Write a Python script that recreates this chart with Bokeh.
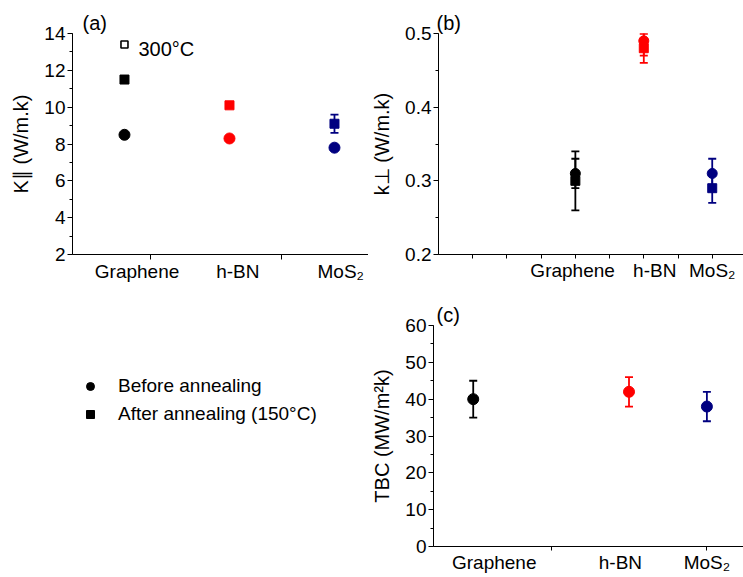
from bokeh.plotting import figure
from bokeh.layouts import row, column
from bokeh.models import (ColumnDataSource, Whisker, TeeHead, FixedTicker, Range1d,
                          Label, Legend, LegendItem, SingleIntervalTicker)
from bokeh.embed import file_html
from bokeh.resources import INLINE

# ---------------- data ----------------
materials = ["Graphene", "h-BN", "MoS₂"]
colors = ["#000000", "#ff0000", "#000080"]

# (a) in-plane thermal conductivity K|| (W/m.k)
pos_a = [1, 2, 3]
k_par_before = [8.5, 8.3, 7.8]
k_par_after = [11.5, 10.1, 9.1]
k_par_after_err = [0.0, 0.0, 0.5]
k_par_300C = [13.4]          # graphene, annealed at 300 C

# (b) cross-plane thermal conductivity k_perp (W/m.k)
pos_b = [3, 4, 5]
k_perp_before = [0.31, 0.49, 0.31]
k_perp_before_lo = [0.29, 0.47, 0.29]
k_perp_before_hi = [0.33, 0.50, 0.33]
k_perp_after = [0.30, 0.48, 0.29]
k_perp_after_lo = [0.26, 0.46, 0.27]
k_perp_after_hi = [0.34, 0.50, 0.31]

# (c) thermal boundary conductance TBC (MW/m2k)
pos_c = [1, 3, 4]
tbc = [40, 42, 38]
tbc_err = [5, 4, 4]

legend_labels = ["Before annealing", "After annealing (150°C)"]

# ---------------- layout constants (tick marks and label placement) ----------------
tick_marks_a = [1.25, 2.5]
tick_marks_b = [1.5, 2, 2.5, 3, 3.5, 4, 4.5, 5]
tick_marks_c = [2, 4]
label_shift_a = [0.12, 0.08, 0.06]
label_shift_b = [-0.04, 0.16, 0.0]
label_shift_c = [0.27, -0.11, 0.0]

FONT = "Liberation Sans"
NAN = float("nan")


def style(p, ylabel):
    p.outline_line_color = None
    p.xgrid.visible = False
    p.ygrid.visible = False
    p.title.text_font = FONT
    p.title.text_font_size = "20px"
    p.title.text_font_style = "normal"
    p.title.text_color = "black"
    p.title.align = "left"
    p.title.standoff = 0
    for ax in p.axis:
        ax.axis_line_color = "black"
        ax.axis_line_width = 1
        ax.major_label_text_font = FONT
        ax.major_label_text_font_size = "19px"
        ax.major_label_text_color = "black"
        ax.axis_label_text_font = FONT
        ax.axis_label_text_font_size = "20px"
        ax.axis_label_text_font_style = "normal"
        ax.axis_label_text_color = "black"
        ax.major_tick_in = 0
        ax.major_tick_out = 5
        ax.minor_tick_in = 0
        ax.minor_tick_out = 3
        ax.major_tick_line_color = "black"
        ax.minor_tick_line_color = "black"
    p.yaxis.axis_label = ylabel
    p.yaxis.axis_label_standoff = 9
    p.yaxis.major_label_standoff = 2


def category_axis(p, pos, shift, marks, tick_len):
    label_pos = [x + s for x, s in zip(pos, shift)]
    p.xaxis.ticker = FixedTicker(ticks=label_pos, minor_ticks=marks)
    p.xaxis.major_label_overrides = {x: m for x, m in zip(label_pos, materials)}
    p.xaxis.major_tick_out = 0
    p.xaxis.minor_tick_out = tick_len
    p.xaxis.major_label_standoff = 1


def add_whisker(p, x, lo, hi, color):
    src = ColumnDataSource(dict(x=[x], lo=[lo], hi=[hi]))
    w = Whisker(base="x", lower="lo", upper="hi", source=src, dimension="height",
                line_color=color, line_width=1.8,
                upper_head=TeeHead(size=8, line_color=color, line_width=1.8),
                lower_head=TeeHead(size=8, line_color=color, line_width=1.8))
    p.add_layout(w)


# ---------------- panel (a) ----------------
pa = figure(width=368, height=290, output_backend="svg", toolbar_location=None,
            x_range=Range1d(0.505, 3.324), y_range=Range1d(2, 14), title="(a)",
            min_border_left=72, min_border_right=0, min_border_top=33, min_border_bottom=36)
style(pa, "K∥ (W/m.k)")
pa.title.offset = 10
pa.yaxis.ticker = SingleIntervalTicker(interval=2, num_minor_ticks=2)
category_axis(pa, pos_a, label_shift_a, tick_marks_a, 5)
for i in range(3):
    if k_par_after_err[i] > 0:
        add_whisker(pa, pos_a[i], k_par_after[i] - k_par_after_err[i],
                    k_par_after[i] + k_par_after_err[i], colors[i])
pa.scatter(pos_a, k_par_after, marker="square", size=9, color=colors)
pa.scatter(pos_a, k_par_before, marker="circle", size=11, color=colors)
pa.scatter(pos_a[:1], k_par_300C, marker="square", size=7, fill_color="white",
           line_color="black", line_width=1.6)
pa.add_layout(Label(x=pos_a[0], y=k_par_300C[0], text="300°C", x_offset=14, y_offset=-4,
                    text_baseline="middle", text_font=FONT, text_font_size="20px",
                    text_color="black"))

# ---------------- panel (b) ----------------
pb = figure(width=375, height=290, output_backend="svg", toolbar_location=None,
            x_range=Range1d(1, 5.457), y_range=Range1d(0.2, 0.5), title="(b)",
            min_border_left=63, min_border_right=0, min_border_top=33, min_border_bottom=36)
style(pb, "k⊥ (W/m.k)")
pb.title.offset = -2
pb.yaxis.ticker = SingleIntervalTicker(interval=0.1, num_minor_ticks=2)
category_axis(pb, pos_b, label_shift_b, tick_marks_b, 4)
for i in range(3):
    add_whisker(pb, pos_b[i], k_perp_after_lo[i], k_perp_after_hi[i], colors[i])
    add_whisker(pb, pos_b[i], k_perp_before_lo[i], k_perp_before_hi[i], colors[i])
pb.scatter(pos_b, k_perp_after, marker="square", size=9, color=colors)
pb.scatter(pos_b, k_perp_before, marker="circle", size=10, color=colors)

# ---------------- legend panel ----------------
lf = figure(width=368, height=287, output_backend="svg", toolbar_location=None,
            x_range=Range1d(0, 1), y_range=Range1d(0, 1),
            x_axis_location=None, y_axis_location=None,
            min_border_left=0, min_border_right=0, min_border_top=0, min_border_bottom=0)
lf.outline_line_color = None
lf.xgrid.visible = False
lf.ygrid.visible = False
# legend-only renderers (no visible data point)
r1 = lf.scatter([NAN], [NAN], marker="circle", size=11, color="black")
r2 = lf.scatter([NAN], [NAN], marker="square", size=8, color="black")
leg = Legend(items=[LegendItem(label=legend_labels[0], renderers=[r1]),
                    LegendItem(label=legend_labels[1], renderers=[r2])],
             location=(80, 121), margin=0, padding=0, spacing=6,
             glyph_width=20, glyph_height=20, label_height=20, label_standoff=18,
             label_text_font=FONT, label_text_font_size="19px", label_text_color="black",
             border_line_color=None, background_fill_alpha=0)
lf.add_layout(leg)

# ---------------- panel (c) ----------------
pc = figure(width=375, height=287, output_backend="svg", toolbar_location=None,
            x_range=Range1d(0.49, 4.47), y_range=Range1d(0, 60), title="(c)",
            min_border_left=62, min_border_right=0, min_border_top=35, min_border_bottom=31)
style(pc, "TBC (MW/m²k)")
pc.title.offset = 3
pc.yaxis.ticker = SingleIntervalTicker(interval=10, num_minor_ticks=2)
category_axis(pc, pos_c, label_shift_c, tick_marks_c, 4)
for i in range(3):
    add_whisker(pc, pos_c[i], tbc[i] - tbc_err[i], tbc[i] + tbc_err[i], colors[i])
pc.scatter(pos_c, tbc, marker="circle", size=11, color=colors)

layout = column(row(pa, pb), row(lf, pc))
open("out.html", "w").write(file_html(layout, INLINE))
